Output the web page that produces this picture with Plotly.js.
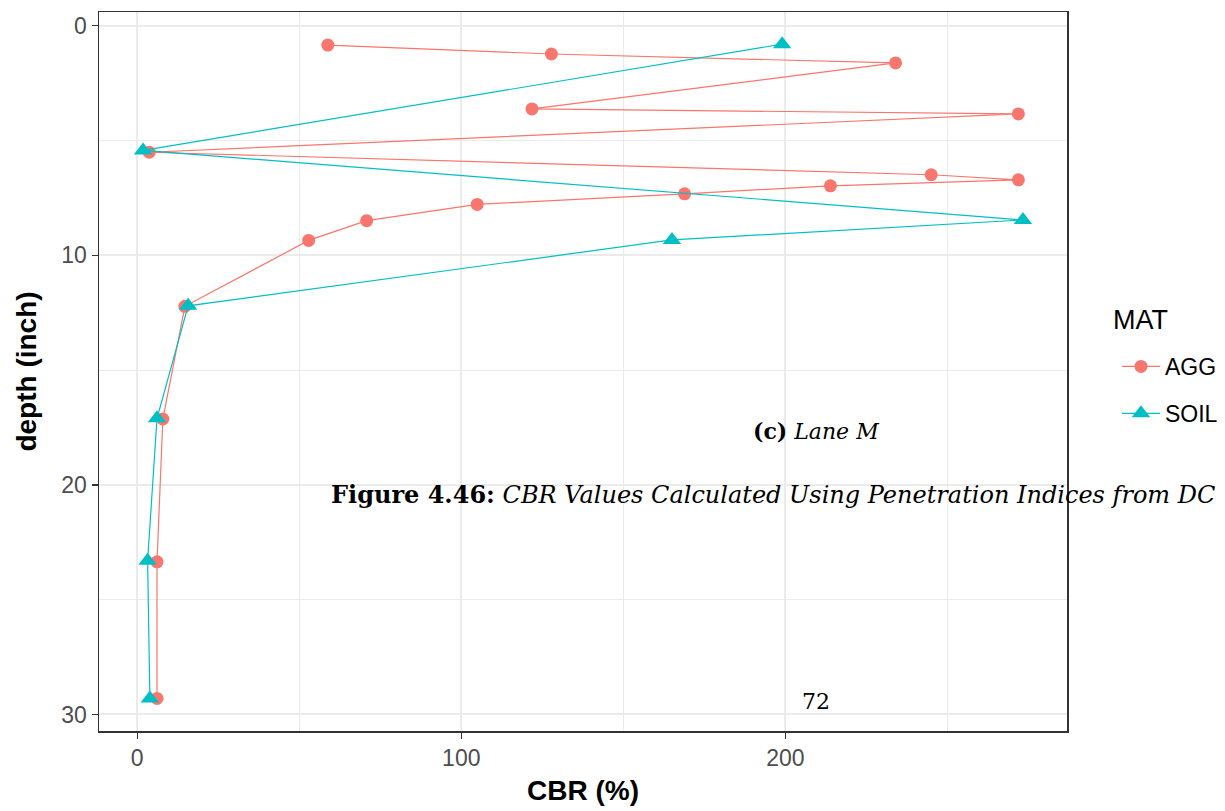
<!DOCTYPE html>
<html>
<head>
<meta charset="utf-8">
<script src="https://cdn.plot.ly/plotly-3.0.1.min.js"></script>
<style>html,body{margin:0;padding:0;background:#fff;}#chart{width:1225px;height:811px;}</style>
</head>
<body>
<div id="chart"></div>
<script>
// Data (CBR %, depth inch), in path order
const aggCBR   = [58.8, 127.8, 234.0, 121.8, 271.9, 3.7, 245.0, 271.9, 213.9, 168.9, 104.9, 70.8, 52.9, 14.7, 7.9, 6.1, 6.1];
const aggDepth = [0.84, 1.23, 1.62, 3.62, 3.84, 5.51, 6.49, 6.71, 6.97, 7.32, 7.78, 8.49, 9.35, 12.22, 17.13, 23.35, 29.3];
const soilCBR   = [199.0, 1.8, 273.3, 165.0, 15.7, 6.1, 3.2, 3.9];
const soilDepth = [0.80, 5.43, 8.46, 9.33, 12.2, 17.1, 23.3, 29.3];
const seriesNames = ['AGG', 'SOIL'];
const xTicks = [0, 100, 200];
const yTicks = [0, 10, 20, 30];

const W = 1225, H = 811;
const M = {l: 99, r: 158, t: 12, b: 80, autoexpand: false};
const pw = W - M.l - M.r, ph = H - M.t - M.b;
const px = v => (v - M.l) / pw;
const py = v => (H - M.b - v) / ph;

const traces = [
  {x: aggCBR, y: aggDepth, name: seriesNames[0], type: 'scatter', mode: 'lines+markers',
   legendgroup: 'a',
   line: {color: '#F8766D', width: 1.2},
   marker: {color: '#F8766D', size: 13, symbol: 'circle'}},
  {x: soilCBR, y: soilDepth, name: seriesNames[1], type: 'scatter', mode: 'lines+markers',
   legendgroup: 'b',
   line: {color: '#00BFC4', width: 1.2},
   marker: {color: '#00BFC4', size: 16, symbol: 'triangle-up'}}
];

const axisCommon = {
  showline: true, mirror: true, linecolor: '#333333', linewidth: 1.5,
  ticks: 'outside', ticklen: 6, tickwidth: 1.3, tickcolor: '#333333',
  showgrid: true, gridcolor: '#EBEBEB', gridwidth: 2,
  zeroline: false,
  tickfont: {family: 'Liberation Sans, Arial, sans-serif', size: 23, color: '#4D4D4D'}
};

const layout = {
  width: W, height: H,
  margin: M,
  paper_bgcolor: '#ffffff', plot_bgcolor: '#ffffff',
  showlegend: true,
  xaxis: Object.assign({}, axisCommon, {
    range: [-11.8, 286.9], tickvals: xTicks, ticktext: xTicks.map(String),
    minor: {dtick: 50, tick0: 0, showgrid: true, gridcolor: '#EBEBEB', gridwidth: 1, ticks: ''},
    title: {text: '<b>CBR (%)</b>', font: {family: 'Liberation Sans, Arial, sans-serif', size: 28, color: '#000'}, standoff: 10}
  }),
  yaxis: Object.assign({}, axisCommon, {
    range: [30.72, -0.6], tickvals: yTicks, ticktext: yTicks.map(String),
    minor: {dtick: 5, tick0: 0, showgrid: true, gridcolor: '#EBEBEB', gridwidth: 1, ticks: ''},
    title: {text: '<b>depth (inch)</b>', font: {family: 'Liberation Sans, Arial, sans-serif', size: 28, color: '#000'}, standoff: 16}
  }),
  legend: {
    x: px(1117), y: py(345), xanchor: 'left', yanchor: 'top',
    itemwidth: 38,
    font: {family: 'Liberation Sans, Arial, sans-serif', size: 23, color: '#000'},
    tracegroupgap: 14, bgcolor: 'rgba(0,0,0,0)'
  },
  annotations: [
    {xref: 'paper', yref: 'paper', x: px(1111), y: py(320), xanchor: 'left', yanchor: 'middle', showarrow: false,
     text: 'MAT', font: {family: 'Liberation Sans, Arial, sans-serif', size: 27, color: '#000'}},
    {xref: 'paper', yref: 'paper', x: px(816), y: py(431), xanchor: 'center', yanchor: 'middle', showarrow: false,
     text: '<b>(c)</b> <i>Lane M</i>', font: {family: 'DejaVu Serif, serif', size: 22, color: '#000'}},
    {xref: 'paper', yref: 'paper', x: px(329), y: py(494), xanchor: 'left', yanchor: 'middle', showarrow: false,
     text: '<b>Figure 4.46:</b> <i>CBR Values Calculated Using Penetration Indices from DC</i>',
     font: {family: 'DejaVu Serif, serif', size: 24, color: '#000'}},
    {xref: 'paper', yref: 'paper', x: px(816), y: py(701), xanchor: 'center', yanchor: 'middle', showarrow: false,
     text: '72', font: {family: 'DejaVu Serif, serif', size: 22, color: '#000'}}
  ]
};

Plotly.newPlot('chart', traces, layout, {displayModeBar: false, staticPlot: true});
</script>
</body>
</html>
